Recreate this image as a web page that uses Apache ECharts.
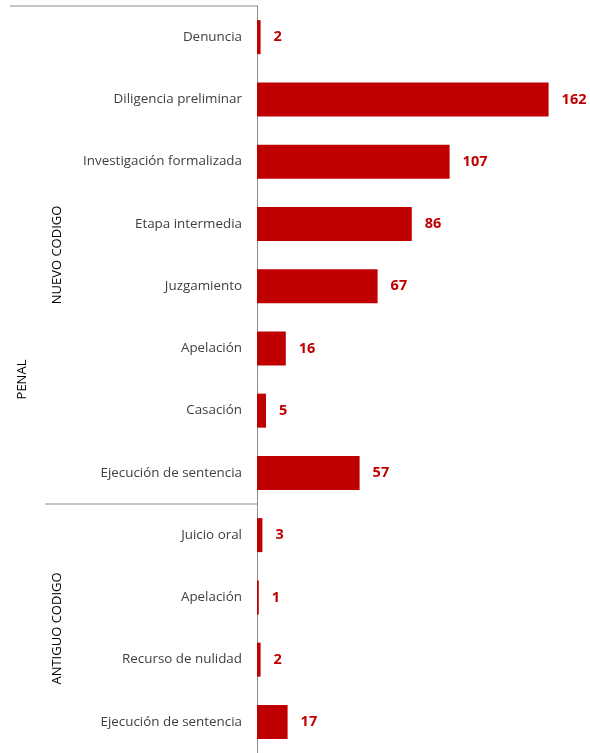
<!DOCTYPE html>
<html><head><meta charset="utf-8">
<script src="https://cdn.jsdelivr.net/npm/echarts@6/dist/echarts.min.js"></script>
<style>html,body{margin:0;padding:0;background:#fff}#c{width:590px;height:753px}</style>
</head><body><div id="c"></div>
<script>
var categories = ['Denuncia','Diligencia preliminar','Investigación formalizada','Etapa intermedia','Juzgamiento','Apelación','Casación','Ejecución de sentencia','Juicio oral','Apelación ','Recurso de nulidad','Ejecución de sentencia '];
var values = [2,162,107,86,67,16,5,57,3,1,2,17];
var groups = [{name:'NUEVO CODIGO', from:0, to:7},{name:'ANTIGUO CODIGO', from:8, to:11}];
var outerGroup = {name:'PENAL', from:0, to:11};

var chart = echarts.init(document.getElementById('c'));
var font = '"Open Sans", "Noto Sans", sans-serif';
chart.setOption({
  animation:false,
  grid:{left:257, right:9, top:6, bottom:0, containLabel:false},
  xAxis:{type:'value', min:0, max:180, show:false},
  yAxis:{type:'category', data:categories, inverse:true,
    axisLine:{lineStyle:{color:'#8c8c8c', width:1}},
    axisTick:{show:false},
    axisLabel:{margin:15, color:'#404040', fontSize:13.4, fontFamily:font, padding:[2,0,0,0], formatter:function(v){return v.trim();}}
  },
  series:[{type:'bar', data:values, barWidth:34, itemStyle:{color:'#C00000'},
    label:{show:true, position:'right', distance:13, color:'#C00000', fontWeight:'bold', fontSize:14.5, fontFamily:font, padding:[2,0,0,0]}}]
});

function py(i){ return chart.convertToPixel({yAxisIndex:0}, i); }
var band = py(1)-py(0);
var axisX = chart.convertToPixel({xAxisIndex:0}, 0);
var g = [];
var topY = py(0)-band/2;
g.push({type:'line', shape:{x1:10, y1:topY, x2:axisX, y2:topY}, style:{stroke:'#8c8c8c', lineWidth:1}});
var sepY = py(groups[0].to)+band/2;
g.push({type:'line', shape:{x1:45, y1:sepY, x2:axisX, y2:sepY}, style:{stroke:'#8c8c8c', lineWidth:1}});
groups.forEach(function(gr){
  var cy = (py(gr.from)+py(gr.to))/2;
  g.push({type:'text', x:57, y:cy, rotation:Math.PI/2, style:{text:gr.name, fill:'#000', font:'13px '+font, align:'center', verticalAlign:'middle'}});
});
var ocy = (py(outerGroup.from)+py(outerGroup.to))/2;
g.push({type:'text', x:22, y:ocy, rotation:Math.PI/2, style:{text:outerGroup.name, fill:'#000', font:'13px '+font, align:'center', verticalAlign:'middle'}});
chart.setOption({graphic:g});
</script>
</body></html>
